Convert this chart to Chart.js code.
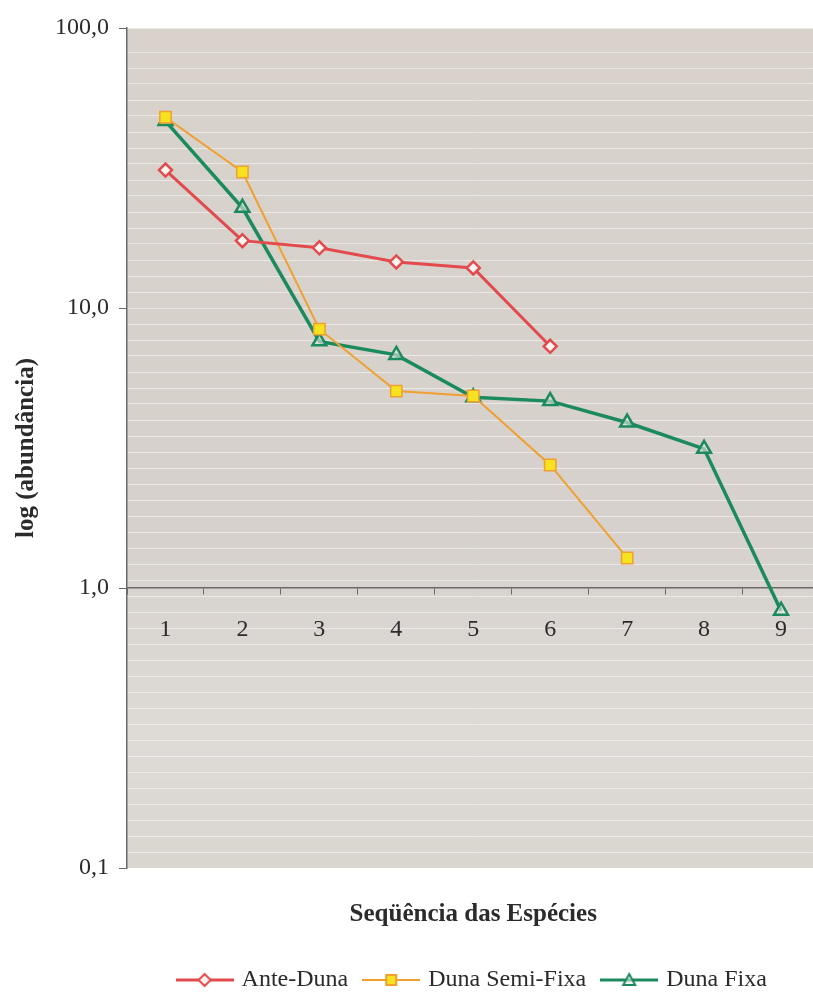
<!DOCTYPE html>
<html>
<head>
<meta charset="utf-8">
<script src="https://cdn.jsdelivr.net/npm/chart.js@4.4.1/dist/chart.umd.min.js"></script>
<style>
  html, body { margin: 0; padding: 0; background: #fff; overflow: hidden; }
  #wrap { width: 830px; height: 1002px; }
</style>
</head>
<body>
<div id="wrap"><canvas id="chart"></canvas></div>
<script>
// species rank (x) and abundance values
var categories = ['1', '2', '3', '4', '5', '6', '7', '8', '9'];
var anteDuna = [31.1, 17.4, 16.4, 14.6, 13.9, 7.3, null, null, null];
var dunaSemiFixa = [48.0, 30.6, 8.4, 5.05, 4.85, 2.75, 1.28, null, null];
var dunaFixa = [46.5, 22.8, 7.6, 6.8, 4.8, 4.65, 3.9, 3.14, 0.83];
var yTicks = [0.1, 1, 10, 100];

var serif = "'Liberation Serif', 'DejaVu Serif', serif";
var textColor = '#2b2b2b';

var styles = {
    ante: { line: '#e24a4e', fill: '#fff4f0', marker: 'rectRot' },
    semi: { line: '#f0a030', fill: '#f6e21e', marker: 'rect' },
    fixa: { line: '#1b8a5c', fill: 'rgba(230,230,225,0.6)', marker: 'triangle' }
};

// little line + marker pictures for the legend, Excel style
function legendImage(s, lineWidth) {
    var c = document.createElement('canvas');
    c.width = 58; c.height = 18;
    var ctx = c.getContext('2d');
    ctx.strokeStyle = s.line;
    ctx.lineWidth = lineWidth;
    ctx.beginPath();
    ctx.moveTo(0, 9); ctx.lineTo(58, 9);
    ctx.stroke();
    ctx.fillStyle = s.fill;
    ctx.lineWidth = 2;
    ctx.beginPath();
    if (s.marker === 'rectRot') {
        ctx.moveTo(29, 3); ctx.lineTo(35, 9); ctx.lineTo(29, 15); ctx.lineTo(23, 9);
    } else if (s.marker === 'rect') {
        ctx.rect(24, 4, 10, 10);
    } else {
        ctx.moveTo(29, 3); ctx.lineTo(35, 14); ctx.lineTo(23, 14);
    }
    ctx.closePath();
    ctx.fill();
    ctx.stroke();
    return c;
}

var legendImages = [legendImage(styles.ante, 3), legendImage(styles.semi, 2), legendImage(styles.fixa, 3)];

var plotBackground = {
    id: 'plotBackground',
    beforeDraw: function (chart) {
        var a = chart.chartArea, ctx = chart.ctx;
        var g = ctx.createLinearGradient(0, a.top, 0, a.bottom);
        g.addColorStop(0, '#d8d2cb');
        g.addColorStop(0.6, '#d6d1cc');
        g.addColorStop(0.85, '#dedad5');
        g.addColorStop(1, '#d9d5cf');
        ctx.save();
        ctx.fillStyle = g;
        ctx.fillRect(a.left, a.top, a.right - a.left, a.bottom - a.top);
        ctx.restore();
    }
};

new Chart(document.getElementById('chart'), {
    type: 'line',
    data: {
        labels: categories,
        datasets: [
            {
                label: 'Ante-Duna',
                data: anteDuna,
                borderColor: styles.ante.line,
                backgroundColor: styles.ante.fill,
                borderWidth: 3,
                pointStyle: 'rectRot',
                pointRadius: 6.5,
                pointBorderWidth: 2.5,
                pointBorderColor: styles.ante.line,
                pointBackgroundColor: styles.ante.fill,
                tension: 0
            },
            {
                label: 'Duna Semi-Fixa',
                data: dunaSemiFixa,
                borderColor: styles.semi.line,
                backgroundColor: styles.semi.fill,
                borderWidth: 2,
                pointStyle: 'rect',
                pointRadius: 8,
                pointBorderWidth: 1.5,
                pointBorderColor: styles.semi.line,
                pointBackgroundColor: styles.semi.fill,
                tension: 0
            },
            {
                label: 'Duna Fixa',
                data: dunaFixa,
                borderColor: styles.fixa.line,
                backgroundColor: styles.fixa.fill,
                borderWidth: 3.5,
                pointStyle: 'triangle',
                pointRadius: 8,
                pointBorderWidth: 2.5,
                pointBorderColor: styles.fixa.line,
                pointBackgroundColor: styles.fixa.fill,
                tension: 0
            }
        ]
    },
    options: {
        responsive: true,
        maintainAspectRatio: false,
        animation: false,
        layout: { padding: { top: 28, right: 8, bottom: 0, left: 0 } },
        scales: {
            x: {
                type: 'category',
                offset: true,
                position: { y: 1 },
                border: { display: true, color: '#6a6a6a', width: 1.5 },
                grid: {
                    offset: true,
                    drawOnChartArea: false,
                    drawTicks: true,
                    tickLength: 6,
                    color: '#6a6a6a'
                },
                ticks: {
                    color: textColor,
                    padding: 21,
                    font: { family: serif, size: 24 }
                }
            },
            y: {
                type: 'logarithmic',
                min: 0.1,
                max: 100,
                position: 'left',
                border: { display: true, color: '#6a6a6a', width: 1.5 },
                grid: { drawOnChartArea: false, tickLength: 8, color: '#6a6a6a' },
                afterBuildTicks: function (axis) {
                    axis.ticks = yTicks.map(function (v) { return { value: v }; });
                },
                afterFit: function (axis) { axis.width = 127; },
                ticks: {
                    color: textColor,
                    padding: 10,
                    font: { family: serif, size: 24 },
                    callback: function (v) { return Number(v).toFixed(1).replace('.', ','); }
                },
                title: {
                    display: true,
                    text: 'log (abundância)',
                    color: textColor,
                    padding: { top: 12, bottom: 0 },
                    font: { family: serif, size: 25, weight: 'bold' }
                }
            },
            stripes: {
                type: 'linear',
                position: 'right',
                min: 0,
                max: 52.5,
                border: { display: false },
                grid: { color: 'rgba(255,255,255,0.5)', lineWidth: 1, drawTicks: false },
                ticks: { display: false, stepSize: 1 },
                afterFit: function (axis) { axis.width = 0; }
            }
        },
        plugins: {
            title: {
                display: true,
                position: 'bottom',
                fullSize: false,
                weight: 500,
                text: 'Seqüência das Espécies',
                color: textColor,
                padding: { top: 32, bottom: 20 },
                font: { family: serif, size: 25, weight: 'bold' }
            },
            legend: {
                display: true,
                position: 'bottom',
                fullSize: false,
                labels: {
                    usePointStyle: true,
                    pointStyleWidth: 50,
                    padding: 18,
                    color: textColor,
                    font: { family: serif, size: 24 },
                    generateLabels: function (chart) {
                        return chart.data.datasets.map(function (ds, i) {
                            return {
                                text: ds.label,
                                pointStyle: legendImages[i],
                                fillStyle: ds.backgroundColor,
                                strokeStyle: ds.borderColor,
                                lineWidth: 0,
                                fontColor: textColor,
                                hidden: false,
                                datasetIndex: i
                            };
                        });
                    }
                }
            },
            tooltip: { enabled: false }
        }
    },
    plugins: [plotBackground]
});
</script>
</body>
</html>
